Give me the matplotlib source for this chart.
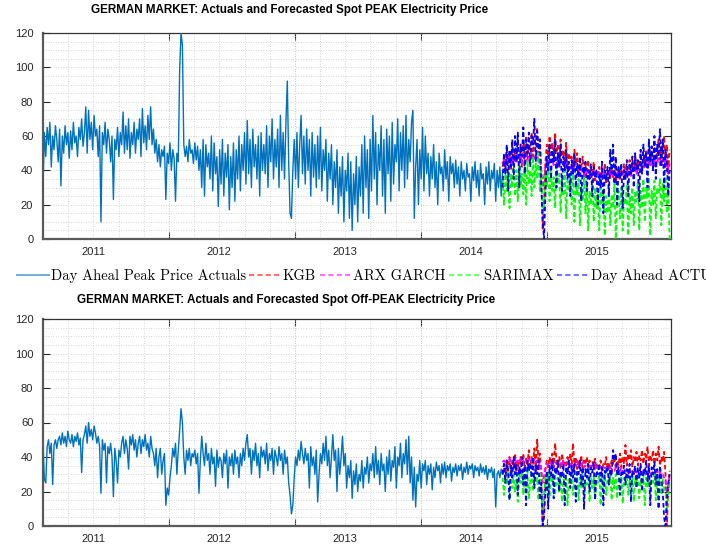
# 독일 시장 PEAK / Off-PEAK 전력가격 실측치와 예측치를 같이 plot 시키는 code 입니다.
import numpy as np
import pandas as pd
import matplotlib
matplotlib.use('Agg')
import matplotlib.pyplot as plt
from matplotlib.lines import Line2D
from matplotlib.ticker import MultipleLocator, FixedLocator, NullFormatter, FuncFormatter

plt.rcParams['font.family'] = ['Liberation Sans', 'DejaVu Sans']

# 기준일과 샘플 간격(일)
start_day = pd.Timestamp('2010-08-08')
step = 4
fc_start = 1332          # 예측 구간 시작 (기준일부터 일수)
x_end = 1820

# PEAK 실측치 (4일 간격)
peak_actual = [
    30, 62, 48, 65, 55, 68, 42, 60, 52, 66,
    58, 45, 64, 31, 60, 50, 66, 55, 62, 47,
    63, 52, 68, 56, 60, 48, 65, 58, 70, 54,
    62, 77, 50, 75, 58, 68, 52, 72, 60, 64,
    48, 66, 10, 62, 55, 68, 50, 64, 58, 45,
    60, 23, 58, 52, 65, 48, 62, 55, 74, 50,
    66, 52, 70, 47, 62, 55, 68, 50, 64, 58,
    70, 48, 76, 56, 66, 52, 72, 58, 77, 55,
    64, 50, 58, 45, 55, 42, 52, 48, 54, 23,
    50, 44, 56, 40, 52, 47, 22, 50, 45, 98,
    120, 113, 55, 48, 54, 45, 58, 50, 52, 44,
    56, 46, 54, 40, 52, 30, 58, 25, 55, 42,
    50, 35, 60, 28, 56, 38, 48, 19, 52, 32,
    58, 25, 50, 36, 55, 17, 48, 30, 56, 22,
    52, 35, 60, 28, 55, 40, 62, 32, 69, 38,
    58, 30, 64, 42, 55, 35, 60, 25, 62, 40,
    55, 38, 66, 30, 60, 45, 70, 35, 58, 42,
    64, 30, 72, 40, 62, 35, 68, 92, 45, 15,
    12, 40, 58, 35, 62, 30, 55, 72, 38, 60,
    32, 64, 40, 58, 25, 62, 36, 55, 30, 60,
    35, 65, 28, 52, 40, 58, 22, 50, 35, 55,
    20, 45, 30, 52, 15, 42, 25, 48, 10, 40,
    28, 50, 12, 45, 5, 38, 20, 48, 10, 42,
    25, 55, 15, 60, 30, 52, 12, 58, 28, 72,
    35, 62, 20, 55, 40, 66, 25, 58, 15, 64,
    38, 60, 22, 68, 32, 55, 45, 70, 28, 62,
    40, 66, 30, 72, 35, 58, 45, 68, 75, 12,
    42, 58, 20, 52, 35, 65, 28, 60, 38, 50,
    25, 48, 35, 55, 30, 45, 20, 50, 38, 42,
    28, 52, 35, 45, 22, 48, 38, 44, 30, 46,
    32, 42, 25, 45, 35, 40, 28, 44, 36, 38,
    22, 42, 34, 45, 30, 40, 25, 44, 35, 38,
    20, 42, 32, 45, 28, 40, 35, 44, 22, 40,
    30, 42, 25, 40,
]

# Off-PEAK 실측치 (4일 간격)
offpeak_actual = [
    48, 27, 25, 46, 50, 42, 48, 24, 47, 50,
    45, 50, 52, 47, 54, 48, 52, 46, 55, 50,
    48, 53, 46, 52, 49, 54, 47, 51, 31, 50,
    53, 58, 48, 60, 52, 56, 50, 58, 54, 48,
    52, 46, 19, 50, 44, 48, 25, 46, 42, 48,
    40, 17, 45, 38, 25, 44, 40, 48, 52, 42,
    50, 45, 33, 52, 47, 53, 44, 50, 40, 48,
    52, 42, 50, 46, 53, 44, 48, 40, 52, 45,
    42, 35, 45, 28, 40, 45, 30, 38, 42, 12,
    22, 18, 28, 35, 45, 40, 48, 30, 44, 55,
    68, 60, 40, 30, 44, 38, 45, 35, 42, 40,
    44, 36, 42, 19, 38, 52, 42, 35, 48, 38,
    42, 30, 45, 36, 40, 23, 44, 34, 40, 38,
    28, 42, 36, 44, 22, 40, 35, 42, 30, 44,
    36, 40, 28, 42, 35, 45, 38, 48, 53, 40,
    45, 30, 44, 38, 48, 35, 42, 28, 46, 40,
    44, 36, 48, 32, 42, 38, 45, 30, 44, 40,
    35, 46, 38, 42, 30, 44, 36, 40, 25, 18,
    7, 12, 28, 40, 35, 44, 38, 49, 42, 36,
    45, 38, 42, 22, 46, 35, 40, 30, 44, 14,
    30, 42, 36, 48, 38, 52, 35, 44, 28, 40,
    53, 38, 44, 20, 45, 30, 40, 52, 35, 42,
    22, 35, 28, 38, 16, 32, 24, 36, 20, 30,
    26, 38, 22, 34, 30, 40, 25, 36, 32, 42,
    28, 46, 30, 38, 24, 42, 32, 36, 20, 40,
    30, 44, 26, 38, 34, 46, 22, 40, 35, 48,
    28, 42, 36, 50, 30, 52, 25, 40, 15, 34,
    11, 30, 26, 38, 22, 36, 32, 38, 24, 35,
    30, 36, 21, 34, 28, 37, 32, 35, 25, 36,
    30, 37, 28, 35, 32, 36, 26, 34, 31, 36,
    29, 35, 32, 36, 27, 34, 31, 37, 30, 35,
    33, 36, 28, 35, 32, 34, 29, 36, 31, 34,
    30, 35, 27, 33, 31, 34, 28, 33, 11, 30,
    32, 28, 33, 30,
]

# PEAK 예측 구간 (4일 간격)
peak_kgb = [
    42, 48, 38, 52, 44, 50, 40, 55, 46, 50,
    45, 58, 48, 52, 42, 56, 50, 60, 46, 54,
    52, 62, 48, 58, 55, 65, 50, 58, 40, 6,
    20, 45, 55, 48, 60, 52, 56, 46, 62, 50,
    55, 45, 58, 48, 52, 44, 56, 42, 50, 46,
    48, 40, 52, 44, 50, 38, 46, 42, 48, 36,
    44, 40, 46, 35, 42, 38, 45, 34, 40, 38,
    42, 33, 40, 36, 44, 32, 38, 40, 35, 42,
    36, 40, 33, 38, 42, 34, 40, 37, 44, 35,
    42, 38, 46, 36, 44, 40, 48, 38, 46, 42,
    50, 40, 48, 44, 52, 42, 55, 45, 50, 48,
    56, 44, 52, 58, 46, 54, 50, 60, 45, 55,
    40, 52,
]
peak_arx = [
    44, 46, 42, 47, 44, 48, 43, 47, 45, 48,
    44, 49, 46, 48, 44, 50, 46, 49, 45, 48,
    46, 50, 45, 48, 47, 50, 44, 47, 40, 30,
    36, 42, 46, 44, 47, 45, 46, 43, 47, 44,
    45, 42, 46, 43, 44, 41, 45, 40, 43, 41,
    42, 39, 43, 40, 42, 38, 41, 39, 41, 37,
    40, 38, 40, 36, 39, 37, 40, 36, 38, 37,
    39, 36, 38, 37, 40, 36, 38, 39, 37, 40,
    37, 39, 36, 38, 40, 37, 39, 38, 41, 37,
    40, 38, 42, 37, 41, 39, 43, 38, 42, 40,
    44, 40, 43, 41, 45, 41, 46, 42, 44, 43,
    46, 42, 45, 47, 43, 46, 44, 48, 42, 46,
    38, 44,
]
peak_sarimax = [
    35, 20, 40, 28, 42, 18, 38, 30, 44, 25,
    40, 22, 45, 30, 38, 26, 42, 20, 46, 32,
    40, 25, 48, 30, 44, 35, 50, 28, 40, 15,
    20, 38, 30, 42, 22, 40, 28, 36, 18, 42,
    32, 38, 15, 35, 25, 40, 12, 34, 28, 36,
    20, 38, 10, 32, 26, 35, 8, 30, 22, 36,
    15, 32, 5, 28, 20, 34, 10, 30, 18, 26,
    5, 30, 20, 28, 2, 25, 15, 30, 8, 26,
    18, 32, 0, 22, 28, 12, 30, 5, 24, 20,
    32, 2, 26, 15, 30, 8, 28, 22, 34, 5,
    28, 18, 35, 10, 30, 24, 36, 2, 28, 20,
    34, 12, 30, 26, 35, 8, 32, 22, 36, 15,
    30, 0,
]
peak_dayahead = [
    30, 50, 38, 55, 28, 52, 42, 58, 35, 60,
    45, 62, 30, 55, 48, 65, 38, 58, 50, 62,
    42, 60, 55, 70, 45, 63, 52, 58, 30, 12,
    0, 25, 48, 40, 55, 35, 52, 45, 58, 30,
    50, 42, 55, 28, 48, 40, 52, 35, 45, 25,
    46, 38, 50, 30, 44, 36, 48, 22, 42, 38,
    45, 28, 40, 35, 44, 25, 42, 36, 40, 20,
    38, 30, 45, 15, 40, 34, 42, 25, 52, 38,
    55, 32, 48, 20, 42, 36, 44, 18, 40, 35,
    46, 25, 44, 38, 48, 30, 50, 40, 46, 22,
    52, 38, 55, 42, 50, 30, 58, 45, 54, 40,
    60, 35, 55, 48, 64, 42, 58, 30, 52, 45,
    25, 40,
]

# Off-PEAK 예측 구간 (4일 간격)
offpeak_kgb = [
    30, 36, 28, 38, 32, 40, 30, 37, 34, 42,
    32, 38, 30, 40, 35, 42, 33, 39, 36, 44,
    34, 40, 36, 45, 32, 50, 38, 42, 30, 0,
    10, 32, 38, 34, 40, 36, 42, 34, 48, 38,
    35, 40, 33, 42, 36, 38, 34, 40, 36, 42,
    34, 48, 36, 40, 33, 38, 35, 41, 32, 38,
    36, 40, 34, 38, 32, 37, 35, 39, 33, 36,
    34, 38, 32, 36, 35, 40, 33, 37, 34, 38,
    36, 40, 33, 38, 35, 42, 34, 40, 36, 47,
    35, 42, 38, 44, 34, 40, 37, 43, 35, 41,
    38, 44, 36, 42, 39, 46, 35, 41, 38, 44,
    36, 42, 38, 46, 35, 40, 37, 43, 30, 0,
    20, 32,
]
offpeak_arx = [
    37, 38, 36, 38, 37, 39, 36, 38, 37, 39,
    36, 38, 37, 39, 36, 38, 37, 38, 36, 39,
    37, 38, 36, 39, 37, 38, 35, 37, 33, 25,
    30, 34, 36, 35, 37, 36, 38, 35, 37, 36,
    37, 35, 37, 36, 38, 35, 37, 36, 38, 35,
    36, 34, 37, 35, 38, 34, 36, 35, 37, 34,
    35, 34, 36, 33, 35, 34, 36, 33, 35, 34,
    35, 33, 34, 32, 34, 33, 35, 32, 34, 33,
    33, 32, 34, 31, 33, 32, 34, 31, 33, 32,
    32, 30, 33, 31, 32, 30, 33, 31, 32, 30,
    31, 30, 32, 29, 31, 30, 32, 29, 31, 30,
    31, 29, 32, 30, 31, 29, 30, 28, 27, 20,
    24, 28,
]
offpeak_sarimax = [
    28, 18, 30, 24, 32, 15, 28, 22, 30, 20,
    27, 14, 30, 25, 31, 18, 28, 22, 32, 16,
    26, 30, 20, 31, 25, 28, 15, 30, 22, 10,
    18, 28, 24, 31, 16, 29, 25, 30, 18, 27,
    28, 20, 31, 14, 27, 25, 30, 12, 28, 24,
    30, 18, 27, 25, 31, 15, 28, 22, 30, 17,
    26, 24, 30, 14, 28, 22, 29, 16, 27, 25,
    30, 12, 28, 23, 30, 18, 27, 24, 31, 15,
    28, 22, 30, 16, 27, 25, 29, 13, 28, 24,
    30, 18, 27, 23, 31, 14, 28, 25, 30, 16,
    27, 24, 30, 12, 28, 22, 29, 17, 27, 25,
    31, 15, 28, 24, 30, 18, 27, 22, 20, 10,
    18, 25,
]
offpeak_dayahead = [
    30, 36, 25, 38, 32, 15, 35, 28, 40, 30,
    36, 18, 34, 30, 40, 24, 35, 12, 38, 32,
    36, 28, 40, 22, 35, 30, 38, 15, 25, 0,
    5, 20, 32, 10, 35, 28, 38, 16, 34, 30,
    38, 20, 32, 28, 36, 12, 34, 30, 38, 22,
    35, 28, 36, 14, 32, 30, 38, 24, 34, 10,
    33, 28, 36, 20, 34, 31, 37, 15, 32, 30,
    36, 26, 34, 12, 32, 30, 35, 24, 33, 29,
    44, 38, 42, 30, 34, 18, 32, 30, 35, 24,
    33, 28, 36, 14, 32, 30, 35, 22, 34, 28,
    36, 20, 33, 30, 38, 26, 35, 12, 34, 30,
    37, 24, 33, 10, 35, 28, 20, 5, 0, 15,
    25, 30,
]

labels = ['Day Aheal Peak Price Actuals', 'KGB', 'ARX GARCH', 'SARIMAX', 'Day Ahead ACTUAL']
colors = ['#0072BD', '#ff0000', '#ff00ff', '#00ff00', '#0000ff']
titles = ['GERMAN MARKET: Actuals and Forecasted Spot PEAK Electricity Price',
          'GERMAN MARKET: Actuals and Forecasted Spot Off-PEAK Electricity Price']


def year_label(v, pos):
    # 1월 1일 근처 grid 위치에만 연도 표시
    t = start_day + pd.Timedelta(days=float(v)) + pd.Timedelta(days=2)
    if t.month == 1 and t.day <= 4:
        return str(t.year)
    return ''


def draw_panel(ax, actual, forecasts):
    xa = np.arange(len(actual)) * step
    ax.plot(xa, actual, color=colors[0], lw=1.0, zorder=3)
    for k, fc in enumerate(forecasts):
        xf = fc_start + np.arange(len(fc)) * step
        ax.plot(xf, fc, color=colors[k + 1], lw=1.3, dashes=(2.5, 1.5), zorder=4 + k)

    ax.set_xlim(0, x_end)
    ax.set_ylim(0, 120)

    ax.xaxis.set_major_locator(FixedLocator([365, 730, 1095, 1460]))
    ax.xaxis.set_major_formatter(NullFormatter())
    ax.xaxis.set_minor_locator(MultipleLocator(73))
    ax.xaxis.set_minor_formatter(FuncFormatter(year_label))
    ax.xaxis.remove_overlapping_locs = False
    ax.yaxis.set_major_locator(MultipleLocator(20))
    ax.yaxis.set_minor_locator(MultipleLocator(5))

    ax.tick_params(which='major', direction='in', length=5, width=0.8,
                   top=True, right=True, labelsize=8, labelcolor='#262626', color='#262626')
    ax.tick_params(axis='y', which='major', pad=7)
    ax.tick_params(which='minor', length=0, labelsize=8, labelcolor='#262626')
    ax.tick_params(axis='x', which='minor', pad=6)

    ax.grid(which='both', linestyle=(0, (1, 2)), color='#c8c8c8', lw=0.6)
    ax.set_axisbelow(True)

    for side in ['left', 'bottom']:
        ax.spines[side].set_linewidth(1.6)
        ax.spines[side].set_color('#5a5a5a')
    for side in ['top', 'right']:
        ax.spines[side].set_linewidth(0.9)
        ax.spines[side].set_color('#333333')


fig = plt.figure(figsize=(7.06, 5.48), dpi=100)
ax1 = fig.add_axes([43 / 706, 1 - 239 / 548, 628 / 706, 206 / 548])
ax2 = fig.add_axes([43 / 706, 1 - 526 / 548, 628 / 706, 207 / 548])

draw_panel(ax1, peak_actual, [peak_kgb, peak_arx, peak_sarimax, peak_dayahead])
draw_panel(ax2, offpeak_actual, [offpeak_kgb, offpeak_arx, offpeak_sarimax, offpeak_dayahead])

fig.text(290 / 706, 1 - 10 / 548, titles[0], ha='center', va='center',
         fontsize=8.4, fontweight='bold')
fig.text(286 / 706, 1 - 300 / 548, titles[1], ha='center', va='center',
         fontsize=8.4, fontweight='bold')

# 범례는 위쪽 그래프 아래에 가로로 배치 (오른쪽 끝은 그림 밖으로 잘림)
handles = [Line2D([], [], color=colors[0], lw=1.5, alpha=0.55)]
for c in colors[1:]:
    handles.append(Line2D([], [], color=c, lw=1.5, alpha=0.55, dashes=(2.5, 1.5)))
fig.legend(handles, labels, loc='center left', bbox_to_anchor=(17 / 706, 1 - 276 / 548),
           ncol=5, frameon=False, prop={'family': 'cmr10', 'size': 10.5},
           handlelength=2.2, handletextpad=0.1, columnspacing=0.25,
           borderpad=0, borderaxespad=0)

fig.savefig('out.png', dpi=100)
